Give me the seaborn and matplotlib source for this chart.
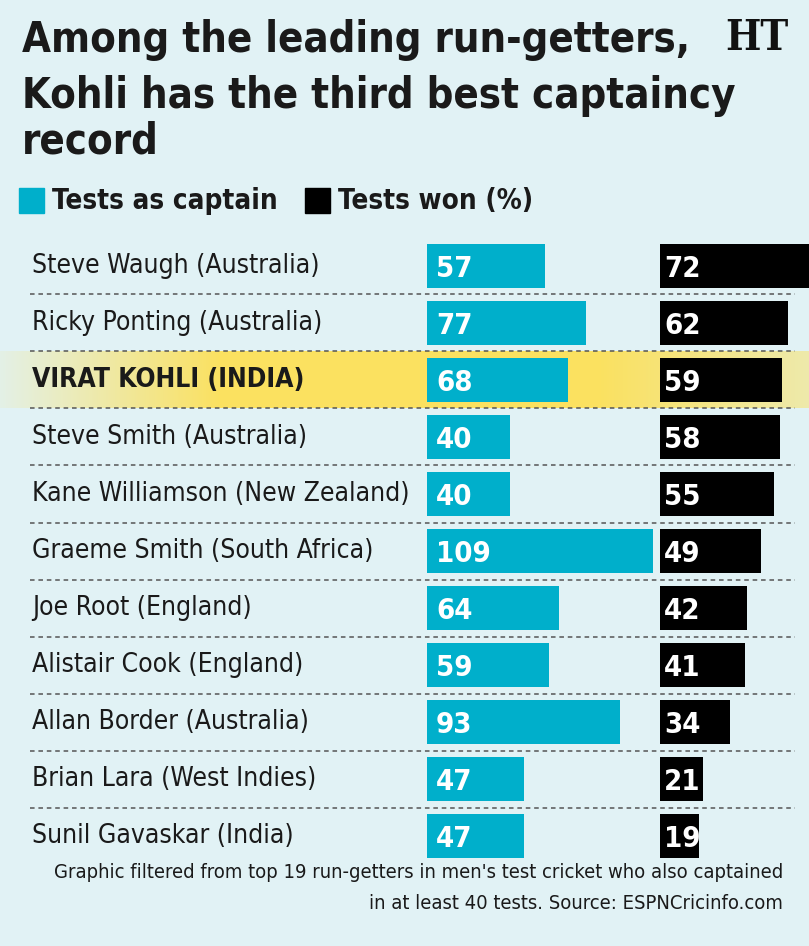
import numpy as np
import pandas as pd
import matplotlib
matplotlib.use('Agg')
import matplotlib.pyplot as plt
import seaborn as sns
from matplotlib import font_manager

players = ['Steve Waugh (Australia)', 'Ricky Ponting (Australia)', 'VIRAT KOHLI (INDIA)',
           'Steve Smith (Australia)', 'Kane Williamson (New Zealand)', 'Graeme Smith (South Africa)',
           'Joe Root (England)', 'Alistair Cook (England)', 'Allan Border (Australia)',
           'Brian Lara (West Indies)', 'Sunil Gavaskar (India)']
tests_captain = [57, 77, 68, 40, 40, 109, 64, 59, 93, 47, 47]
tests_won_pct = [72, 62, 59, 58, 55, 49, 42, 41, 34, 21, 19]
highlight = 'VIRAT KOHLI (INDIA)'

df = pd.DataFrame({'player': players, 'captain': tests_captain, 'won': tests_won_pct})

BG = '#e1f2f5'
CYAN = '#00afcb'
YELLOW = '#fbe160'

sns.set_theme(style='white')
names = {f.name for f in font_manager.fontManager.ttflist}
if 'Liberation Sans Narrow' in names:
    FONT = 'Liberation Sans Narrow'
    STRETCH = 'normal'
else:
    FONT = 'DejaVu Sans'
    STRETCH = 'condensed'
plt.rcParams['font.family'] = [FONT, 'DejaVu Sans']
plt.rcParams['font.stretch'] = STRETCH

W, H = 809, 946
fig = plt.figure(figsize=(W / 100, H / 100), dpi=100, facecolor=BG)

# full-figure axes in pixel coords for title, legend, footnote
bg = fig.add_axes([0, 0, 1, 1])
bg.set_xlim(0, W)
bg.set_ylim(H, 0)
bg.axis('off')

title_kw = dict(fontsize=30, fontweight='bold', color='#1a1a1a', va='center')
bg.text(22, 40, 'Among the leading run-getters,', **title_kw)
bg.text(22, 96, 'Kohli has the third best captaincy', **title_kw)
bg.text(22, 142, 'record', **title_kw)
bg.text(757, 38, 'HT', fontsize=30, fontweight='bold', family='DejaVu Serif',
        color='#111111', va='center', ha='center')

bg.add_patch(plt.Rectangle((19, 188), 25, 25, color=CYAN))
bg.text(52, 201, 'Tests as captain', fontsize=20, fontweight='bold', color='#1a1a1a', va='center')
bg.add_patch(plt.Rectangle((305, 188), 25, 25, color='black'))
bg.text(338, 201, 'Tests won (%)', fontsize=20, fontweight='bold', color='#1a1a1a', va='center')

bg.text(783, 872, "Graphic filtered from top 19 run-getters in men's test cricket who also captained",
        fontsize=14.5, ha='right', va='center', color='#1a1a1a')
bg.text(783, 903, 'in at least 40 tests. Source: ESPNCricinfo.com',
        fontsize=14.5, ha='right', va='center', color='#1a1a1a')

# row geometry (pixels)
top_px, bottom_px = 237.5, 864.5
ax_bottom = (H - bottom_px) / H
ax_height = (bottom_px - top_px) / H
n = len(players)

# rows axes: names, separators, highlight
rows = fig.add_axes([0, ax_bottom, 1, ax_height])
rows.set_xlim(0, W)
rows.set_ylim(n - 0.5, -0.5)
rows.axis('off')
k = players.index(highlight)
grad = np.concatenate([np.linspace(0.1, 1, 220), np.ones(380), np.linspace(1, 0.5, 209)])
rgba = np.zeros((1, W, 4))
rgba[..., :3] = matplotlib.colors.to_rgb(YELLOW)
rgba[..., 3] = grad
rows.imshow(rgba, extent=(0, W, k + 0.5, k - 0.5), aspect='auto', zorder=0)
for i in range(n - 1):
    rows.plot([30, 795], [i + 0.5, i + 0.5], ls=(0, (3, 2.5)), color='#555555', lw=1.1, zorder=1)
for i, p in enumerate(players):
    bold = p == highlight
    rows.text(32, i, p, fontsize=19, fontweight='bold' if bold else 'normal',
              color='#1a1a1a', va='center')

px_per_unit = 2.07
bar_w = 44 / 57

ax1 = fig.add_axes([427 / W, ax_bottom, (W - 427) / W, ax_height])
sns.barplot(data=df, x='captain', y='player', orient='h', color=CYAN, width=bar_w,
            saturation=1, linewidth=0, ax=ax1)
ax1.set_xlim(0, (W - 427) / px_per_unit)

ax2 = fig.add_axes([660 / W, ax_bottom, (W - 660) / W, ax_height])
sns.barplot(data=df, x='won', y='player', orient='h', color='black', width=bar_w,
            saturation=1, linewidth=0, ax=ax2)
ax2.set_xlim(0, (W - 660) / px_per_unit)

for ax, col, off in [(ax1, 'captain', 4.3), (ax2, 'won', 2.0)]:
    ax.set_ylim(n - 0.5, -0.5)
    ax.patch.set_alpha(0)
    ax.axis('off')
    for i, v in enumerate(df[col]):
        ax.text(off, i + 0.05, str(v), fontsize=21, fontweight='bold', color='white', va='center')

fig.savefig('out.png', dpi=100, facecolor=BG)
